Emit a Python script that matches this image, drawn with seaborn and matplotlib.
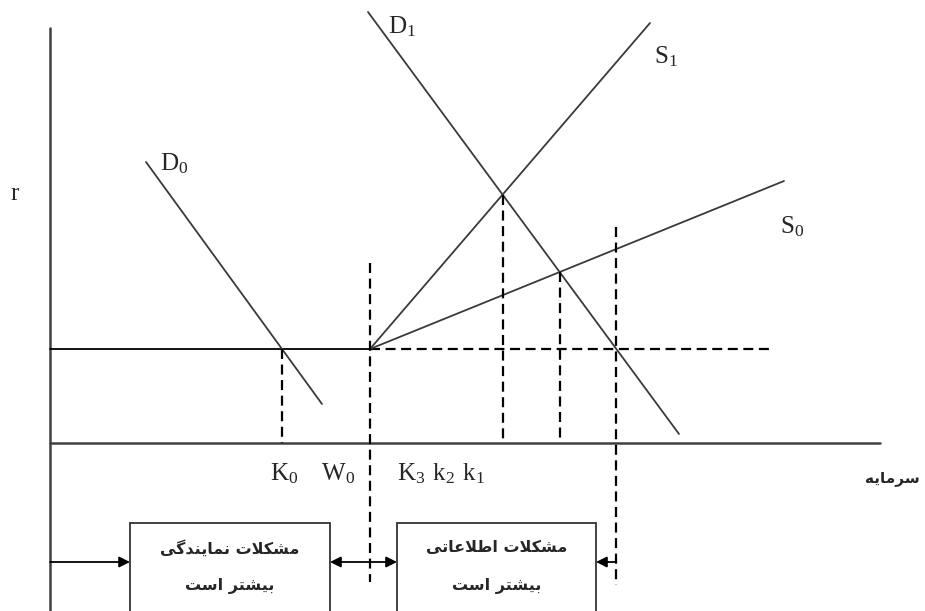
import numpy as np
import matplotlib.pyplot as plt
import seaborn as sns
from matplotlib.patches import Rectangle

# end points of the curves (x = capital, y = r)
d0_x = [9.6, 27.2]
d0_y = [28.1, 3.9]
d1_x = [31.8, 62.9]
d1_y = [43.1, 0.9]
s1_x = [32.0, 60.0]
s1_y = [9.4, 42.0]
s0_x = [32.0, 73.4]
s0_y = [9.4, 26.2]

r_floor = 9.4       # flat part of supply
w0 = 32.0           # internal funds
floor_end = 72.3
x_end = 83.0
y_top = 41.5

box_left = [8.0, 34.7]
box_right = [28.0, 54.6]
box_top = -8.0
arrow_y = -11.9

curve_labels = ["D0", "D1", "S1", "S0"]
box_line1 = ["مشکلات نمایندگی", "مشکلات اطلاعاتی"]
box_line2 = ["بیشتر است", "بیشتر است"]
x_label = "سرمایه"
y_label = "r"


# --- small persian shaper (matplotlib has no arabic shaping) ---
FORMS = {
    'ا': ('\ufe8d', '\ufe8e', None, None),
    'ب': ('\ufe8f', '\ufe90', '\ufe91', '\ufe92'),
    'ت': ('\ufe95', '\ufe96', '\ufe97', '\ufe98'),
    'د': ('\ufea9', '\ufeaa', None, None),
    'ر': ('\ufead', '\ufeae', None, None),
    'س': ('\ufeb1', '\ufeb2', '\ufeb3', '\ufeb4'),
    'ش': ('\ufeb5', '\ufeb6', '\ufeb7', '\ufeb8'),
    'ط': ('\ufec1', '\ufec2', '\ufec3', '\ufec4'),
    'ع': ('\ufec9', '\ufeca', '\ufecb', '\ufecc'),
    'ل': ('\ufedd', '\ufede', '\ufedf', '\ufee0'),
    'م': ('\ufee1', '\ufee2', '\ufee3', '\ufee4'),
    'ن': ('\ufee5', '\ufee6', '\ufee7', '\ufee8'),
    'ه': ('\ufee9', '\ufeea', '\ufeeb', '\ufeec'),
    'ک': ('\ufb8e', '\ufb8f', '\ufb90', '\ufb91'),
    'گ': ('\ufb92', '\ufb93', '\ufb94', '\ufb95'),
    'ی': ('\ufbfc', '\ufbfd', '\ufbfe', '\ufbff'),
    'لا': ('\ufefb', '\ufefc', None, None),
}


def shape(text):
    words = []
    for word in text.split(' '):
        chars = []
        i = 0
        while i < len(word):
            if word[i] == 'ل' and word[i + 1:i + 2] == 'ا':
                chars.append('لا')
                i += 2
            else:
                chars.append(word[i])
                i += 1
        out = ''
        for j, c in enumerate(chars):
            f = FORMS[c]
            prev = j > 0 and FORMS[chars[j - 1]][2] is not None
            nxt = j + 1 < len(chars) and f[2] is not None
            if prev and nxt:
                out += f[3]
            elif prev:
                out += f[1]
            elif nxt:
                out += f[2]
            else:
                out += f[0]
        words.append(out[::-1])
    return ' '.join(words[::-1])


def cross(ax_, ay_, bx_, by_):
    p = np.array([ax_[0], ay_[0]])
    r = np.array([ax_[1] - ax_[0], ay_[1] - ay_[0]])
    q = np.array([bx_[0], by_[0]])
    s = np.array([bx_[1] - bx_[0], by_[1] - by_[0]])
    c = lambda a, b: a[0] * b[1] - a[1] * b[0]
    t = c(q - p, s) / c(r, s)
    return p + t * r


sns.set_theme(style="white")
plt.rcParams['font.family'] = ['Liberation Serif', 'DejaVu Sans']

fig = plt.figure(figsize=(9.25, 6.11), dpi=100)
ax = fig.add_axes([0, 0, 1, 1])
ax.set_xlim(-5.0, 87.5)
ax.set_ylim(-16.8, 44.3)
ax.set_axis_off()

line_col = "#3a3a3a"
dash = (0, (4.5, 2.5))

# axes
ax.plot([0, 0], [y_top, -20], color="#404040", lw=1.8)
ax.plot([0, x_end], [0, 0], color="#404040", lw=1.8)

# flat part and its dashed continuation
ax.plot([0, w0], [r_floor, r_floor], color="black", lw=1.3)
ax.plot([w0, floor_end], [r_floor, r_floor], color="black", lw=1.6, linestyle=dash)

# curves
for cx, cy in [(d0_x, d0_y), (d1_x, d1_y), (s1_x, s1_y), (s0_x, s0_y)]:
    sns.lineplot(x=cx, y=cy, ax=ax, color=line_col, lw=1.3,
                 estimator=None, sort=False)

# dashed drop lines
flat = ([0, 1], [r_floor, r_floor])
k0 = cross(d0_x, d0_y, *flat)
k3 = cross(d1_x, d1_y, s1_x, s1_y)
k2 = cross(d1_x, d1_y, s0_x, s0_y)
k1 = cross(d1_x, d1_y, *flat)
for p in [k0, k3, k2]:
    ax.plot([p[0], p[0]], [p[1], 0], color="black", lw=1.6, linestyle=dash)
ax.plot([w0, w0], [18.0, -13.9], color="black", lw=1.6, linestyle=dash)
ax.plot([k1[0], k1[0]], [21.6, -14.2], color="black", lw=1.6, linestyle=dash)

# curve labels
lab_pos = [(11.0, 27.3), (33.8, 41.0), (60.4, 38.0), (73.0, 21.0)]
for name, (lx, ly) in zip(curve_labels, lab_pos):
    ax.text(lx, ly, r'$\mathregular{%s_%s}$' % (name[0], name[1]),
            fontsize=18, family='Liberation Serif', va='baseline')

ax.text(-3.5, 24.3, y_label, fontsize=18, family='Liberation Serif',
        ha='center', va='baseline')

ax.text(22.0, -3.7, r'$\mathregular{K_0\ \ \ W_0}$', fontsize=18,
        family='Liberation Serif', va='baseline')
ax.text(34.7, -3.7, r'$\mathregular{K_3\ k_2\ k_1}$', fontsize=18,
        family='Liberation Serif', va='baseline')

ax.text(87.0, -3.5, shape(x_label), fontsize=11, family='DejaVu Sans',
        fontweight='bold', ha='right', va='center')

# boxes
for i in range(2):
    ax.add_patch(Rectangle((box_left[i], -20), box_right[i] - box_left[i],
                           box_top + 20, fill=False, ec="#333333", lw=1.3))
    cx = (box_left[i] + box_right[i]) / 2
    ax.text(cx, -10.5, shape(box_line1[i]), fontsize=11.5, family='DejaVu Sans',
            fontweight='bold', ha='center', va='center')
    ax.text(cx, -14.3, shape(box_line2[i]), fontsize=11.5, family='DejaVu Sans',
            fontweight='bold', ha='center', va='center')

# arrows between the boxes
ap = dict(color="black", lw=1.3, shrinkA=0, shrinkB=0, mutation_scale=16)
ax.annotate('', xy=(box_left[0], arrow_y), xytext=(0, arrow_y),
            arrowprops=dict(arrowstyle='-|>', **ap))
ax.annotate('', xy=(box_left[1], arrow_y), xytext=(box_right[0], arrow_y),
            arrowprops=dict(arrowstyle='<|-|>', **ap))
ax.annotate('', xy=(box_right[1], arrow_y), xytext=(k1[0], arrow_y),
            arrowprops=dict(arrowstyle='-|>', **ap))

fig.savefig("out.png", dpi=100)
